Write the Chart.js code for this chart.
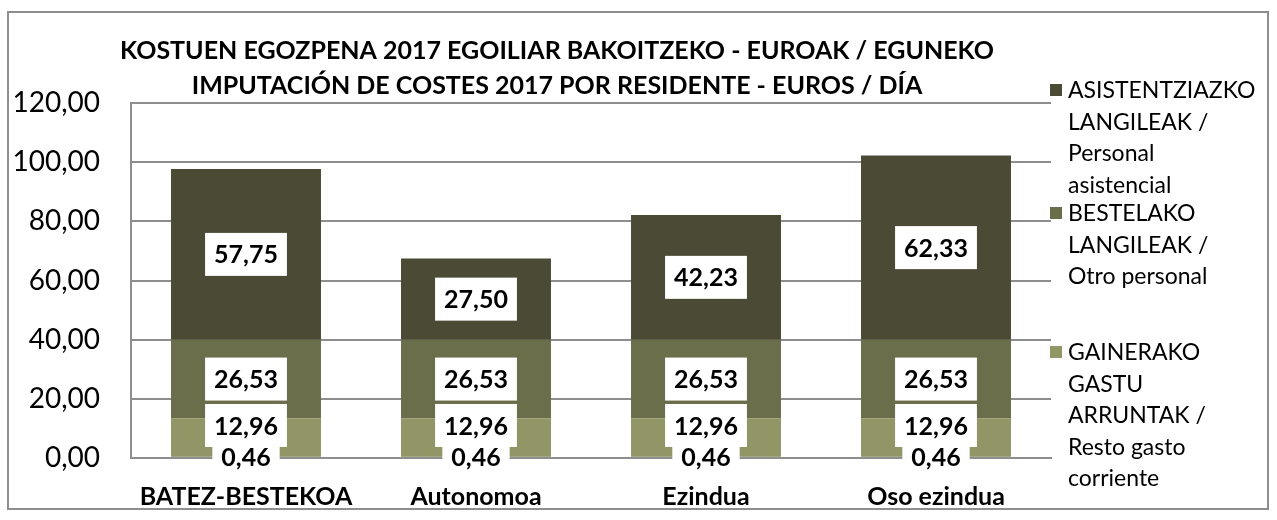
<!DOCTYPE html>
<html>
<head>
<meta charset="utf-8">
<script src="https://cdn.jsdelivr.net/npm/chart.js@4.4.1/dist/chart.umd.min.js"></script>
<style>
  html, body { margin: 0; padding: 0; background: #fff; }
  #wrap { position: relative; width: 1277px; height: 520px; overflow: hidden; font-family: Lato, sans-serif; }
  #frame { position: absolute; left: 7px; top: 11px; width: 1262px; height: 499px; border: 2px solid #8e8e8e; box-sizing: border-box; }
  #chart { position: absolute; left: 0; top: 0; }
  .item { position: absolute; left: 1050px; }
  .item .box { position: absolute; left: 0; top: 10px; width: 12px; height: 12px; }
  .item .txt { margin-left: 18px; font-size: 23px; line-height: 31.5px; color: #000; white-space: nowrap; }
</style>
</head>
<body>
<div id="wrap">
  <div id="frame"></div>
  <canvas id="chart" width="1277" height="520"></canvas>
  <div id="legend"></div>
</div>
<script>
// categories and series (EUR / day)
const categories = ["BATEZ-BESTEKOA", "Autonomoa", "Ezindua", "Oso ezindua"];
const restoTxikia = [0.46, 0.46, 0.46, 0.46];
const gainerako = [12.96, 12.96, 12.96, 12.96];
const bestelako = [26.53, 26.53, 26.53, 26.53];
const asistentziazko = [57.75, 27.5, 42.23, 62.33];

const titleLines = [
  "KOSTUEN EGOZPENA 2017 EGOILIAR BAKOITZEKO - EUROAK / EGUNEKO",
  "IMPUTACIÓN DE COSTES 2017 POR RESIDENTE - EUROS / DÍA"
];
const legendAsist = ["ASISTENTZIAZKO", "LANGILEAK /", "Personal", "asistencial"];
const legendBeste = ["BESTELAKO", "LANGILEAK /", "Otro personal"];
const legendGaine = ["GAINERAKO", "GASTU", "ARRUNTAK /", "Resto gasto", "corriente"];

const yMin = 0, yMax = 120, yStep = 20;

const fmt = (v) => v.toFixed(2).replace(".", ",");

// white boxes with the value of each segment
const segLabels = {
  id: "segLabels",
  afterDatasetsDraw(chart) {
    const ctx = chart.ctx;
    const shift = [0, -12, 0, 0];
    ctx.save();
    ctx.font = "bold 25px Lato";
    ctx.textAlign = "center";
    ctx.textBaseline = "middle";
    chart.data.datasets.forEach((ds, i) => {
      chart.getDatasetMeta(i).data.forEach((bar, j) => {
        const txt = fmt(ds.data[j]);
        const cy = (bar.y + bar.base) / 2 + shift[i];
        const w = ctx.measureText(txt).width + 18;
        const h = 43;
        ctx.fillStyle = "#fff";
        ctx.fillRect(bar.x - w / 2, cy - h / 2, w, h);
        ctx.fillStyle = "#000";
        ctx.fillText(txt, bar.x, cy + 1);
      });
    });
    ctx.restore();
  }
};

const titleDraw = {
  id: "titleDraw",
  afterDraw(chart) {
    const ctx = chart.ctx;
    ctx.save();
    ctx.font = "bold 25px Lato";
    ctx.fillStyle = "#000";
    ctx.textAlign = "center";
    ctx.textBaseline = "middle";
    ctx.fillText(titleLines[0], 557, 51);
    ctx.fillText(titleLines[1], 557, 86);
    ctx.restore();
  }
};

function build() {
  const datasets = [
    { label: "", data: restoTxikia, backgroundColor: "#929566" },
    { label: legendGaine.join(" "), lines: legendGaine, data: gainerako, backgroundColor: "#929566" },
    { label: legendBeste.join(" "), lines: legendBeste, data: bestelako, backgroundColor: "#6b6e4b" },
    { label: legendAsist.join(" "), lines: legendAsist, data: asistentziazko, backgroundColor: "#4a4a35" }
  ];

  new Chart(document.getElementById("chart"), {
    type: "bar",
    data: { labels: categories, datasets: datasets },
    options: {
      responsive: false,
      animation: false,
      layout: { padding: { top: 103, right: 226, left: 0, bottom: 0 } },
      datasets: { bar: { categoryPercentage: 1, barPercentage: 0.652 } },
      plugins: { legend: { display: false }, title: { display: false }, tooltip: { enabled: false } },
      scales: {
        x: {
          stacked: true,
          grid: { display: false, drawTicks: false },
          border: { display: true, color: "#8e8e8e", width: 2 },
          ticks: { color: "#000", font: { family: "Lato", weight: "bold", size: 25 }, padding: 24, maxRotation: 0, autoSkip: false },
          afterFit(s) { s.height = 62; }
        },
        y: {
          stacked: true,
          min: yMin,
          max: yMax,
          grid: { color: "#8e8e8e", lineWidth: 2, drawTicks: false },
          border: { display: true, color: "#8e8e8e", width: 2 },
          ticks: { stepSize: yStep, color: "#000", font: { family: "Lato", size: 28 }, padding: 31, callback: (v) => fmt(v) },
          afterFit(s) { s.width = 131; }
        }
      }
    },
    plugins: [segLabels, titleDraw]
  });

  // legend, top to bottom as in the original
  const tops = [74, 197, 336];
  const legend = document.getElementById("legend");
  [datasets[3], datasets[2], datasets[1]].forEach((ds, k) => {
    const item = document.createElement("div");
    item.className = "item";
    item.style.top = tops[k] + "px";
    item.innerHTML = '<span class="box" style="background:' + ds.backgroundColor + '"></span>' +
      '<div class="txt">' + ds.lines.join("<br>") + "</div>";
    legend.appendChild(item);
  });
}

Promise.all([
  document.fonts.load("25px Lato"),
  document.fonts.load("bold 25px Lato")
]).then(build, build);
</script>
</body>
</html>
